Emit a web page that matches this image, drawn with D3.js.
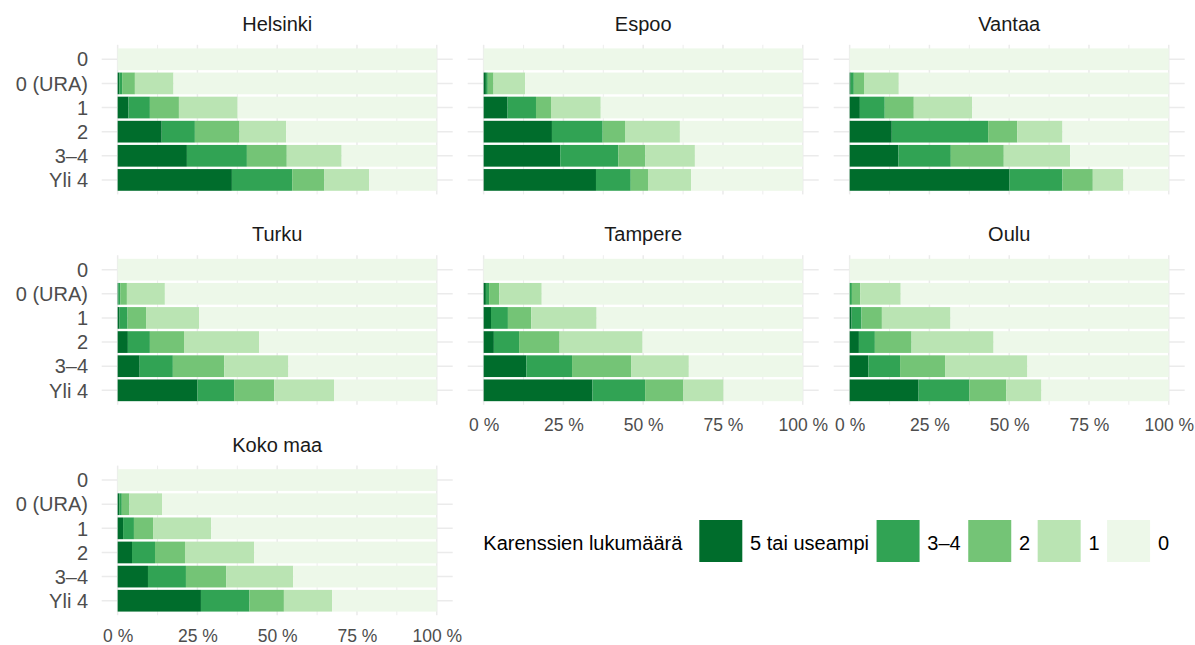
<!DOCTYPE html>
<html lang="fi">
<head>
  <meta charset="UTF-8">
  <title>Karenssien lukumäärä</title>
  <script src="https://d3js.org/d3.v7.min.js"></script>
  <style>
    body { margin: 0; background: #fff; font-family: 'Liberation Sans', Arial, sans-serif; }
    .grid line { stroke: #ebebeb; }
    .ylab { font-size: 20px; fill: #4d4d4d; }
    .xlab text { font-size: 17.5px; fill: #4d4d4d; }
    .strip { font-size: 20px; fill: #1a1a1a; }
    .legend text { font-size: 20px; fill: #000; }
  </style>
</head>
<body>
  <svg width="1195" height="645"></svg>
  <script>
    // rivit (y-akseli) ja pinottavat luokat
    const rows = ["0", "0 (URA)", "1", "2", "3–4", "Yli 4"];
    const levels = ["5 tai useampi", "3–4", "2", "1", "0"];
    const colors = ["#006d2c", "#31a354", "#74c476", "#bae4b3", "#edf8e9"];
    const xTicks = [0, 25, 50, 75, 100];

    // osuudet (%) per rivi: [5+, 3–4, 2, 1, 0]
    const helsinki = [
      [0, 0, 0, 0, 100],
      [0.5, 0.9, 4.0, 12.1, 82.5],
      [3.4, 6.7, 9.1, 18.4, 62.4],
      [13.8, 10.4, 14.0, 14.6, 47.2],
      [21.7, 18.8, 12.5, 17.2, 29.8],
      [35.8, 18.9, 10.1, 14.0, 21.2]
    ];
    const espoo = [
      [0, 0, 0, 0, 100],
      [0.7, 0.6, 1.8, 9.9, 87.0],
      [7.5, 8.9, 4.7, 15.6, 63.3],
      [21.4, 15.9, 7.0, 17.2, 38.5],
      [24.0, 18.2, 8.5, 15.5, 33.8],
      [35.2, 10.9, 5.4, 13.5, 35.0]
    ];
    const vantaa = [
      [0, 0, 0, 0, 100],
      [0.3, 1.0, 3.2, 10.9, 84.6],
      [3.2, 7.8, 9.1, 18.3, 61.6],
      [13.2, 30.2, 9.1, 14.2, 33.3],
      [15.3, 16.4, 16.6, 20.8, 30.9],
      [50.1, 16.6, 9.5, 9.6, 14.2]
    ];
    const turku = [
      [0, 0, 0, 0, 100],
      [0.2, 0.6, 2.1, 11.9, 85.2],
      [0.6, 2.5, 5.8, 16.6, 74.5],
      [3.2, 6.9, 10.7, 23.5, 55.7],
      [6.9, 10.4, 16.1, 20.1, 46.5],
      [25.0, 11.5, 12.6, 18.7, 32.2]
    ];
    const tampere = [
      [0, 0, 0, 0, 100],
      [0.7, 1.0, 3.2, 13.3, 81.8],
      [2.3, 5.3, 7.3, 20.5, 64.6],
      [3.2, 7.9, 12.7, 26.0, 50.2],
      [13.4, 14.3, 18.5, 18.1, 35.7],
      [34.1, 16.5, 12.0, 12.6, 24.8]
    ];
    const oulu = [
      [0, 0, 0, 0, 100],
      [0, 0.7, 2.6, 12.7, 84.0],
      [0.6, 3.1, 6.4, 21.5, 68.4],
      [2.9, 5.0, 11.5, 25.7, 54.9],
      [5.9, 9.9, 14.1, 25.8, 44.3],
      [21.6, 15.9, 11.6, 11.0, 39.9]
    ];
    const kokoMaa = [
      [0, 0, 0, 0, 100],
      [0.5, 0.8, 2.4, 10.2, 86.1],
      [1.7, 3.4, 6.0, 18.2, 70.7],
      [4.5, 7.2, 9.4, 21.7, 57.2],
      [9.5, 11.9, 12.6, 21.0, 45.0],
      [26.1, 15.2, 10.8, 15.1, 32.8]
    ];

    const facets = [
      { name: "Helsinki", values: helsinki },
      { name: "Espoo", values: espoo },
      { name: "Vantaa", values: vantaa },
      { name: "Turku", values: turku },
      { name: "Tampere", values: tampere },
      { name: "Oulu", values: oulu },
      { name: "Koko maa", values: kokoMaa }
    ];

    // paneelien mitat
    const panelW = 351, panelH = 149.6;
    const left0 = 101.7, colStep = 366;
    const top0 = 44.8, rowStep = 210.4;

    const svg = d3.select("svg");
    const color = d3.scaleOrdinal().domain(levels).range(colors);
    const stack = d3.stack().keys(levels);

    facets.forEach((f, i) => {
      const col = i % 3, row = Math.floor(i / 3);
      const px = left0 + col * colStep, py = top0 + row * rowStep;
      const g = svg.append("g").attr("transform", `translate(${px},${py})`);

      // ggplot-tyylinen 5 % laajennus
      const pad = panelW / 1.1 * 0.05;
      const x = d3.scaleLinear().domain([0, 100]).range([pad, panelW - pad]);
      const y = d3.scaleBand().domain(rows).range([0, panelH])
        .paddingInner(0.1).paddingOuter(0.15);

      const grid = g.append("g").attr("class", "grid");
      grid.selectAll("line.h")
        .data(rows)
        .join("line")
        .attr("x1", 0).attr("x2", panelW)
        .attr("y1", d => y(d) + y.bandwidth() / 2)
        .attr("y2", d => y(d) + y.bandwidth() / 2)
        .attr("stroke-width", 1.5);
      grid.selectAll("line.v")
        .data(d3.range(0, 100.1, 12.5))
        .join("line")
        .attr("y1", 0).attr("y2", panelH)
        .attr("x1", d => x(d)).attr("x2", d => x(d))
        .attr("stroke-width", d => d % 25 === 0 ? 1.5 : 0.9);

      const table = rows.map((r, k) => {
        const o = { row: r };
        levels.forEach((l, j) => o[l] = f.values[k][j]);
        return o;
      });
      const series = stack(table);

      g.selectAll("g.layer")
        .data(series)
        .join("g")
        .attr("class", "layer")
        .attr("fill", d => color(d.key))
        .selectAll("rect")
        .data(d => d)
        .join("rect")
        .attr("x", d => x(d[0]))
        .attr("width", d => x(d[1]) - x(d[0]))
        .attr("y", d => y(d.data.row))
        .attr("height", y.bandwidth());

      g.append("text")
        .attr("class", "strip")
        .attr("x", panelW / 2)
        .attr("y", -14)
        .attr("text-anchor", "middle")
        .text(f.name);

      if (col === 0) {
        g.selectAll("text.ylab")
          .data(rows)
          .join("text")
          .attr("class", "ylab")
          .attr("x", -13.7)
          .attr("y", d => y(d) + y.bandwidth() / 2)
          .attr("dy", "0.36em")
          .attr("text-anchor", "end")
          .text(d => d);
      }

      // x-akseli vain sarakkeen alimmassa paneelissa
      if (i >= 4) {
        const ax = g.append("g")
          .attr("class", "xlab")
          .attr("transform", `translate(0,${panelH})`)
          .call(d3.axisBottom(x).tickValues(xTicks).tickSize(0).tickPadding(0)
            .tickFormat(d => d + " %"));
        ax.select(".domain").remove();
        ax.selectAll("text").attr("dy", null).attr("y", 26.5);
      }
    });

    // selite
    const legend = svg.append("g").attr("class", "legend")
      .attr("transform", "translate(483.3,550)");
    let lx = 0;
    const title = legend.append("text").attr("x", lx).text("Karenssien lukumäärä");
    lx += title.node().getComputedTextLength() + 17;
    levels.forEach(l => {
      legend.append("rect")
        .attr("x", lx).attr("y", -30)
        .attr("width", 43).attr("height", 42)
        .attr("fill", color(l));
      lx += 43 + 7.8;
      const t = legend.append("text").attr("x", lx).text(l);
      lx += t.node().getComputedTextLength() + 7.5;
    });
  </script>
</body>
</html>
